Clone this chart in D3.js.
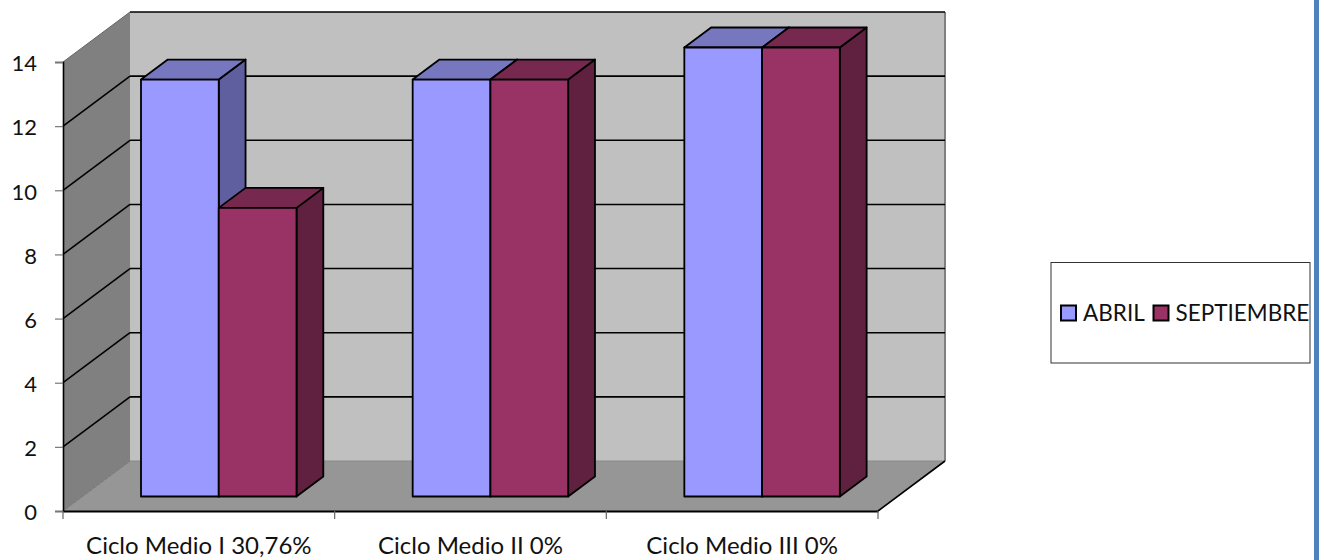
<!DOCTYPE html>
<html>
<head>
<meta charset="utf-8">
<script src="https://d3js.org/d3.v7.min.js"></script>
<style>
html, body { margin: 0; padding: 0; background: #fff; }
svg { display: block; }
text { font-family: Lato, "Open Sans", sans-serif; fill: #111; }
</style>
</head>
<body>
<svg id="chart" width="1324" height="560"></svg>
<script>
// data
const categories = ["Ciclo Medio I 30,76%", "Ciclo Medio II 0%", "Ciclo Medio III 0%"];
const seriesNames = ["ABRIL", "SEPTIEMBRE"];
const abril = [13, 13, 14];
const septiembre = [9, 13, 14];
const yTicks = [0, 2, 4, 6, 8, 10, 12, 14];

const seriesValues = [abril, septiembre];
const frontColor = ["#9999ff", "#993366"];
const topColor = ["#7777bf", "#77284f"];
const sideColor = ["#5f5f9f", "#602040"];

const svg = d3.select("#chart");

// front plane of the 3d box
const plotLeft = 63, plotRight = 878, plotTop = 62, plotBottom = 511;
// offset from the front plane to the back wall
const depthX = 67, depthY = -50;
// where the bars sit inside the depth
const barFront = 0.29, barBack = 0.69;

const y = d3.scaleLinear().domain([0, 14]).range([plotBottom, plotTop]);
const x0 = d3.scaleBand().domain(categories).range([plotLeft, plotRight]);
const x1 = d3.scaleBand().domain(seriesNames).range([78, 233.5]);

function pt(x, v, d) {
    return [x + depthX * d, y(v) + depthY * d];
}
function poly(points, fill, stroke, width) {
    svg.append("polygon")
        .attr("points", points.map(p => p.join(",")).join(" "))
        .attr("fill", fill)
        .attr("stroke", stroke || "none")
        .attr("stroke-width", width || 0)
        .attr("stroke-linejoin", "round");
}
function drawLine(a, b, color, width) {
    svg.append("line")
        .attr("x1", a[0]).attr("y1", a[1])
        .attr("x2", b[0]).attr("y2", b[1])
        .attr("stroke", color)
        .attr("stroke-width", width);
}

// back wall, side wall, floor
poly([pt(plotLeft, 14, 1), pt(plotRight, 14, 1), pt(plotRight, 0, 1), pt(plotLeft, 0, 1)], "#c0c0c0");
poly([pt(plotLeft, 14, 0), pt(plotLeft, 14, 1), pt(plotLeft, 0, 1), pt(plotLeft, 0, 0)], "#808080");
poly([pt(plotLeft, 0, 0), pt(plotLeft, 0, 1), pt(plotRight, 0, 1), pt(plotRight, 0, 0)], "#969696");

// wall edges
drawLine(pt(plotLeft, 14, 0), pt(plotLeft, 14, 1), "#666", 1);
drawLine(pt(plotLeft, 0, 0), pt(plotLeft, 0, 1), "#777", 1);
drawLine(pt(plotRight, 14, 1), pt(plotRight, 0, 1), "#808080", 2);
drawLine(pt(plotLeft, 0, 1), pt(plotRight, 0, 1), "#8a8a8a", 1);

// gridlines
yTicks.filter(d => d > 0).forEach(function (d) {
    if (d < 14) drawLine(pt(plotLeft, d, 0), pt(plotLeft, d, 1), "#000", 1.6);
    drawLine(pt(plotLeft, d, 1), pt(plotRight, d, 1), "#000", 1.6);
});

// bars
categories.forEach(function (c, i) {
    seriesNames.forEach(function (s, j) {
        const v = seriesValues[j][i];
        const xa = x0(c) + x1(s) - depthX * barFront;
        const xb = xa + x1.bandwidth();
        const sw = 1.8;
        poly([pt(xb, v, barFront), pt(xb, v, barBack), pt(xb, 0, barBack), pt(xb, 0, barFront)], sideColor[j], "#000", sw);
        poly([pt(xa, v, barFront), pt(xa, v, barBack), pt(xb, v, barBack), pt(xb, v, barFront)], topColor[j], "#000", sw);
        poly([pt(xa, v, barFront), pt(xb, v, barFront), pt(xb, 0, barFront), pt(xa, 0, barFront)], frontColor[j], "#000", sw);
    });
});

// floor front edge on the right
drawLine(pt(plotRight, 0, 0), pt(plotRight, 0, 1), "#000", 1.6);

// y axis
const yAxis = svg.append("g")
    .attr("transform", `translate(${plotLeft},0)`)
    .call(d3.axisLeft(y).tickValues(yTicks).tickSize(8).tickPadding(18).tickFormat(d3.format("d")));
yAxis.select(".domain").attr("stroke", "#000").attr("stroke-width", 1.6);
yAxis.selectAll(".tick line").attr("stroke", "#777").attr("stroke-width", 1.2);
yAxis.selectAll("text")
    .attr("dy", "0.4em")
    .style("font-family", "Lato, sans-serif").style("font-size", "22px").attr("fill", "#111");

// x axis, ticks sit on the band edges so labels and marks are drawn apart
const xAxis = svg.append("g")
    .attr("transform", `translate(0,${plotBottom})`)
    .call(d3.axisBottom(x0).tickSize(0).tickPadding(26));
xAxis.select(".domain").attr("stroke", "#000").attr("stroke-width", 2);
xAxis.selectAll("text").style("font-family", "Lato, sans-serif").style("font-size", "24px").attr("fill", "#111");
d3.range(categories.length + 1).forEach(function (i) {
    const xt = plotLeft + i * x0.step();
    drawLine([xt, plotBottom], [xt, plotBottom + 8], "#666", 1.2);
});

// legend
svg.append("rect")
    .attr("x", 1051).attr("y", 262.5).attr("width", 259).attr("height", 100.5)
    .attr("fill", "#fff").attr("stroke", "#333").attr("stroke-width", 1);
const legendX = [1061, 1153.5];
seriesNames.forEach(function (s, j) {
    svg.append("rect")
        .attr("x", legendX[j]).attr("y", 305.5).attr("width", 15).attr("height", 15)
        .attr("fill", frontColor[j]).attr("stroke", "#000").attr("stroke-width", 2);
    svg.append("text")
        .attr("x", legendX[j] + 22).attr("y", 320.5)
        .style("font-size", "22.5px")
        .text(s);
});

// blue page edge on the right
svg.append("rect")
    .attr("x", 1314).attr("y", 0).attr("width", 5).attr("height", 560)
    .attr("fill", "#4f81bd");
</script>
</body>
</html>
